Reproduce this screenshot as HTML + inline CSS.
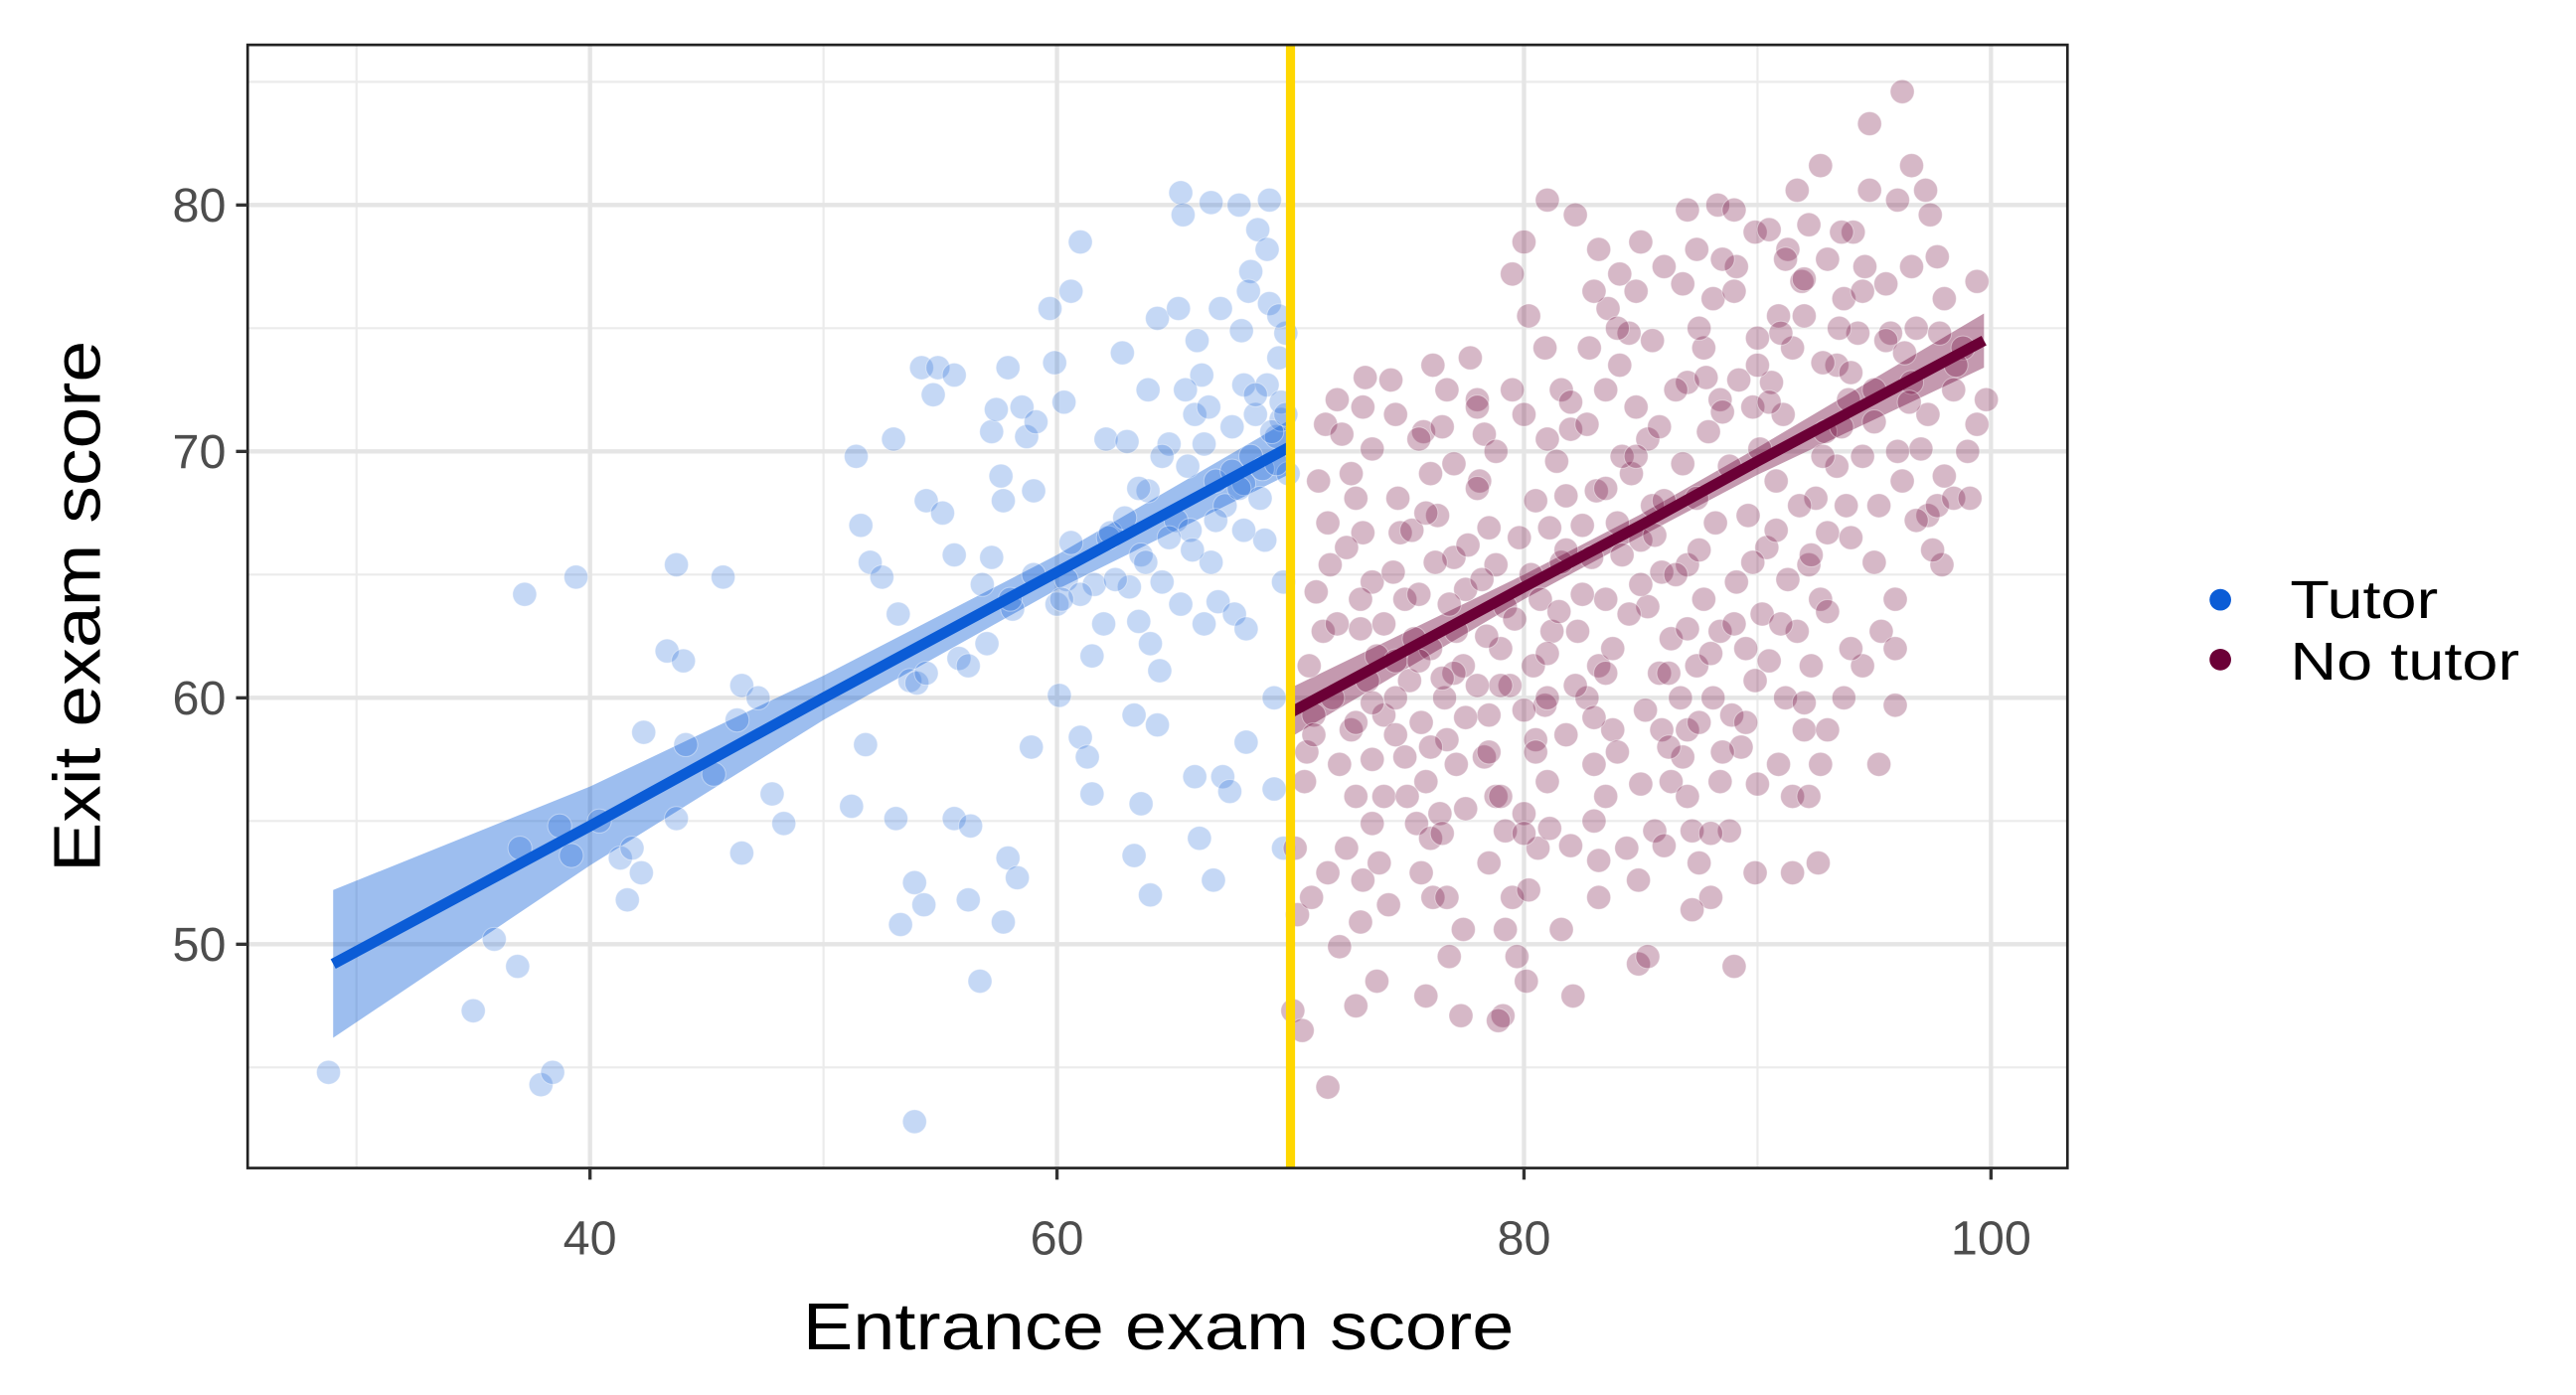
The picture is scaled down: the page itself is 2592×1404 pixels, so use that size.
<!DOCTYPE html>
<html><head><meta charset="utf-8">
<style>
html,body{margin:0;padding:0;background:#fff;}
svg{display:block;}
text{font-family:"Liberation Sans Narrow","Liberation Sans",sans-serif;}
</style></head>
<body>
<svg id="chart" xmlns="http://www.w3.org/2000/svg" width="2592" height="1404" viewBox="0 0 1550 839.6">
<rect x="0" y="0" width="1550" height="839.6" fill="#fff"/>
<g id="grid"></g>
<g id="bands"></g>
<g id="points"></g>
<g id="fits"></g>
<g id="cutoff"></g>
<rect x="149" y="27" width="1095" height="676" fill="none" stroke="#222" stroke-width="1.6"/>
<g id="axes"></g>
<text x="697" y="812" text-anchor="middle" font-size="40" textLength="428" lengthAdjust="spacingAndGlyphs" fill="#000">Entrance exam score</text>
<text transform="translate(60,365) rotate(-90)" text-anchor="middle" font-size="40" textLength="320" lengthAdjust="spacingAndGlyphs" fill="#000">Exit exam score</text>
<g>
<g>
<circle cx="1336" cy="361" r="6.5" fill="#0B5CD6"/>
<text x="1378" y="372" font-size="32" textLength="89" lengthAdjust="spacingAndGlyphs" fill="#000">Tutor</text>
</g>
<g>
<circle cx="1336" cy="397" r="6.5" fill="#6B0036"/>
<text x="1378" y="409" font-size="32" textLength="138" lengthAdjust="spacingAndGlyphs" fill="#000">No tutor</text>
</g>
</g>
</svg>
<script>
const xTicks = [40, 60, 80, 100];
const yTicks = [50, 60, 70, 80];
const xMinor = [30, 50, 70, 90];
const yMinor = [45, 55, 65, 75, 85];
const cutoff = 70;

const tutorX = [28.8,37.2,39.4,43.7,45.7,35.0,35.9,36.9,37.9,38.4,37.0,38.7,39.2,40.4,41.3,41.6,41.8,42.2,42.3,43.3,44.0,43.7,44.1,45.3,46.5,46.5,46.3,47.2,47.8,48.3,51.2,51.4,51.6,51.8,52.0,52.5,53.0,53.2,53.1,53.3,53.7,53.9,54.0,54.2,54.3,54.4,54.4,54.7,54.9,55.1,55.6,55.6,55.6,55.8,56.2,56.2,56.3,56.7,56.8,57.0,57.2,57.2,57.4,57.6,57.7,57.7,57.9,57.9,58.1,58.3,58.5,58.7,58.9,59.0,59.1,59.7,59.9,60.0,60.1,60.3,60.4,60.6,60.6,61.0,61.0,61.3,61.5,61.5,61.6,62.1,62.2,62.3,62.8,62.9,63.0,63.1,63.3,63.3,63.5,63.6,63.6,63.9,63.9,64.0,64.0,64.3,64.4,64.3,64.5,64.8,65.1,65.2,65.3,65.3,65.4,65.6,65.7,65.9,65.9,66.1,66.2,66.3,66.3,66.6,66.6,66.7,66.8,66.9,67.1,67.2,67.4,67.5,67.6,67.9,68.0,68.0,68.1,68.1,68.3,68.3,68.5,68.6,68.7,68.9,69.0,69.1,69.1,69.3,69.3,69.4,69.5,69.6,69.7,69.7,69.8,69.9,53.9,
66.5,67.5,68.5,69.2,69.6,68.8,67.8,66.8,65.8,64.8,63.8,62.5,63.5,64.5,65.5,66.0,67.0,68.2,69.5,69.0,67.8,69.8,69.4,68.0,62.0,61.0,60.2,59.0,58.0];
const tutorY = [44.8,64.2,64.9,65.4,64.9,47.3,50.2,49.1,44.3,44.8,53.9,54.8,53.6,55.0,53.5,51.8,53.9,52.9,58.6,61.9,61.5,55.1,58.1,56.9,60.5,53.7,59.1,60.0,56.1,54.9,55.6,69.8,67.0,58.1,65.5,64.9,70.5,63.4,55.1,50.8,60.7,52.5,60.6,73.4,51.6,68.0,61.0,72.3,73.4,67.5,73.1,65.8,55.1,61.6,61.3,51.8,54.8,48.5,64.6,62.2,70.8,65.7,71.7,69.0,50.9,68.0,73.4,53.5,63.6,52.7,71.8,70.6,58.0,68.4,71.2,75.8,73.6,63.8,60.1,72.0,64.8,66.3,76.5,78.5,58.4,57.6,56.1,61.7,64.6,70.5,66.5,66.7,74.0,67.3,70.4,64.5,59.3,53.6,63.1,65.8,55.7,72.5,68.4,62.2,52.0,58.9,61.1,75.4,64.7,70.3,67.2,75.8,80.5,63.8,79.6,69.4,66.8,56.8,71.5,54.3,73.1,63.0,70.3,80.1,65.5,52.6,68.8,63.9,56.8,67.8,56.2,69.2,63.4,74.9,72.7,68.7,58.2,62.8,77.3,69.8,71.5,79.0,68.1,66.4,72.7,76.0,80.2,60.0,56.3,70.6,73.8,71.3,53.9,64.7,74.8,69.1,42.8,
71.8,71.0,72.3,70.8,72.0,69.3,68.5,67.2,66.0,66.5,65.5,64.8,68.5,69.8,72.5,74.5,75.8,76.5,75.5,78.2,80.0,71.5,69.5,66.8,63.0,64.2,64.0,65.0,64.0];

const noTutorX = [70.1,70.5,70.3,70.2,70.6,70.9,70.7,71.0,70.8,71.4,71.1,71.7,71.6,71.2,71.5,72.0,72.2,72.6,72.8,73.1,72.4,73.5,73.0,73.7,73.3,74.0,72.6,72.1,72.8,73.5,72.4,71.6,73.1,73.8,74.2,73.0,72.1,73.7,72.8,71.6,74.0,73.1,73.5,74.3,74.6,74.7,74.4,74.9,75.3,75.1,75.6,74.9,75.8,75.4,76.0,75.6,76.1,75.8,76.8,77.4,77.3,76.7,76.4,77.1,76.7,76.6,77.4,77.1,77.5,77.0,76.3,76.0,75.7,76.1,76.7,77.7,78.0,78.3,78.1,78.5,78.8,79.2,79.0,79.4,78.5,78.3,78.8,79.2,78.5,79.5,79.2,79.7,80.1,79.1,80.2,80.6,80.0,81.0,80.5,80.9,80.4,81.2,80.7,81.6,81.1,81.8,81.4,82.0,81.6,80.9,80.2,79.5,80.0,82.2,81.0,83.2,84.1,83.6,84.5,84.1,84.8,85.3,84.6,85.5,85.0,85.9,85.3,86.3,85.8,86.7,85.9,86.8,86.3,87.0,85.6,84.4,84.9,83.2,83.5,83.0,83.8,82.7,83.2,82.3,83.5,82.9,84.0,83.1,84.2,82.7,87.2,87.5,88.0,88.8,88.4,89.3,88.9,89.9,89.5,90.2,89.1,90.4,89.6,90.8,90.1,91.1,90.6,91.5,90.9,91.9,91.3,92.2,91.7,92.7,89.9,89.1,88.1,87.4,87.7,87.0,88.4,87.9,88.8,87.4,88.2,87.0,87.7,88.4,87.4,88.1,87.0,91.5,90.9,92.0,91.2,92.3,91.7,92.7,92.2,93.0,92.5,93.4,92.9,93.9,93.4,94.3,93.7,94.6,94.1,94.8,96.0,96.6,96.2,94.8,93.6,95.7,96.6,97.3,97.0,96.2,97.3,97.9,95.9,95.3,94.5,93.7,93.0,92.7,92.2,92.6,95.2,95.9,95.9,97.7,98.4,99.1,99.4,99.8,98.8,98.0,97.7,97.4,97.2,99.4,98.4,96.6,89.9,89.0,91.5,87.2,84.9,82.1,78.9,85.3,81.6,83.2,81.1,
75.2,75.8,76.2,75.5,76.8,77.6,78.2,76.0,77.0,78.4,79.6,80.3,79.8,81.5,82.5,81.0,82.2,83.8,84.5,85.0,84.2,85.6,86.5,87.5,86.0,86.8,85.8,86.5,87.8,88.5,89.2,89.8,90.5,90.0,91.0,92.0,92.8,93.5,94.0,95.0,95.5,96.3,90.0,89.0,88.5,87.5,86.8,85.5,84.8,83.5,82.8,82.0,81.0,80.0,79.5,78.8,78.0,77.0,80.5,82.5,83.5,84.8,81.8,79.0,77.5,76.0,74.5,73.5,75.0,76.5,77.5,78.5,80.5,81.8,83.0,84.0,85.2,86.2,87.5,88.5,89.5,90.5,91.0,89.8,90.8,91.8,92.8,93.6,94.5,95.0,96.0,96.5,94.0,95.0,93.0,94.0,92.0,90.0,88.0,86.0,85.0,83.0,82.0,80.0,79.0,74.0,74.5,73.0,72.0,71.8,72.8,71.0,75.5,74.5,73.2,76.5,78.0,83.0,84.0,85.0,86.0,87.0,88.3,89.0,90.5,91.2,92.0,93.0,94.5,95.5,96.8,97.8,98.5,99.0,98.0,96.8,97.5,95.2,93.8,92.3,91.3,89.0,88.0,87.0,86.2,83.5,81.0,80.0,78.0,76.5,75.5,74.5,73.5];
const noTutorY = [47.3,46.5,51.2,53.9,56.6,51.9,57.8,59.3,61.3,62.7,64.3,65.4,67.1,68.8,71.1,72.1,70.7,69.1,68.1,66.7,66.1,64.7,62.8,61.7,60.7,59.3,58.7,57.3,56.0,54.9,53.9,52.9,52.6,53.3,51.6,50.9,49.9,48.5,47.5,44.2,56.0,71.8,70.1,72.9,68.1,66.7,65.1,64.0,62.4,60.7,59.0,57.6,56.6,54.9,54.3,52.9,51.9,47.9,49.5,50.6,47.1,51.9,55.3,57.3,58.3,60.0,61.3,62.7,64.4,65.7,67.4,69.1,70.8,73.5,72.5,73.8,72.1,70.7,68.8,66.9,65.4,63.7,62.0,60.5,59.3,57.6,56.0,54.6,53.3,51.9,50.6,49.5,48.5,47.1,52.2,53.9,55.3,56.6,58.3,59.7,61.3,62.7,64.0,65.5,66.9,68.2,69.6,70.9,72.5,74.2,75.5,77.2,78.5,79.6,80.2,78.2,77.2,75.8,74.8,73.5,71.8,70.5,69.1,67.8,66.4,65.1,63.7,62.4,61.0,60.0,58.7,57.6,56.6,56.0,54.6,53.9,52.6,51.9,56.0,57.3,58.7,60.0,61.3,62.7,64.0,65.7,67.1,68.4,69.8,71.1,54.6,53.3,51.9,54.6,56.6,58.0,59.3,60.7,62.0,63.4,64.7,66.1,67.4,68.8,70.1,71.5,72.8,74.2,75.5,76.9,78.2,79.2,80.6,81.6,78.9,77.5,76.2,78.2,74.2,72.8,72.1,70.8,69.4,68.1,67.1,65.4,64.0,62.7,61.3,60.0,58.7,56.0,57.3,58.7,60.0,61.3,62.7,64.0,65.4,66.7,68.1,69.4,70.8,72.1,73.5,74.8,76.2,77.5,78.9,80.6,80.2,81.6,84.6,83.3,78.9,74.8,72.8,71.5,70.1,68.8,67.4,65.4,64.0,62.7,61.3,60.0,58.7,57.3,56.0,53.3,57.3,59.7,62.0,67.8,68.1,68.1,71.1,72.1,74.2,76.2,77.9,79.6,80.6,76.9,72.5,77.5,52.9,49.1,52.9,51.4,49.2,47.9,46.9,49.5,50.6,53.4,54.7,
66.8,67.5,65.5,64.2,63.8,66.2,64.8,62.0,61.0,62.5,63.2,65.0,66.5,63.5,64.2,61.8,60.5,62.0,63.4,64.6,65.8,66.6,65.0,66.0,68.0,69.5,71.0,72.5,73.0,71.6,72.9,71.8,72.0,73.5,74.8,75.5,73.6,75.0,73.2,72.5,74.5,74.0,74.6,76.5,77.8,75.0,76.8,74.5,76.5,72.5,74.2,72.0,70.5,71.5,72.5,70.0,68.5,69.5,68.0,67.0,68.5,69.8,66.0,60.5,59.2,58.0,58.5,57.5,56.0,54.5,55.5,57.8,57.8,58.5,59.2,57.8,59.5,58.0,59.0,57.8,59.0,61.5,63.0,65.5,66.8,67.8,69.8,71.0,69.8,71.2,70.0,72.0,66.5,65.5,63.5,62.0,59.8,56.5,54.5,54.0,56.5,55.0,54.0,54.5,56.0,63.0,61.5,64.0,63.0,60.0,59.0,58.5,70.5,71.5,73.0,71.0,71.8,76.5,75.0,78.5,77.5,79.8,80.0,79.8,79.0,77.8,77.0,77.8,76.5,76.8,75.0,74.8,73.5,70.0,69.0,67.2,66.0,67.8,67.8,65.8,64.8,63.0,61.8,62.8,61.0,61.0,60.0,59.5,60.5,60.8,61.5,60.0,59.8];

const tutorFitX = [29, 40, 50, 60, 70];
const tutorFitY = [49.2, 54.8, 60.0, 65.1, 70.2];
const tutorLow = [46.2, 53.2, 59.1, 64.4, 69.1];
const tutorHigh = [52.2, 56.4, 60.9, 65.8, 71.3];

const noTutorFitX = [70, 80, 85, 90, 99.7];
const noTutorFitY = [59.4, 64.5, 67.0, 69.6, 74.5];
const noTutorLow = [58.4, 64.0, 66.55, 69.05, 73.4];
const noTutorHigh = [60.4, 65.0, 67.45, 70.15, 75.6];

const NS = "http://www.w3.org/2000/svg";
function sx(v){ return 355 + (v - 40) * 14.05; }
function sy(v){ return 420 - (v - 60) * 14.83; }
function mk(tag, attrs, parent){
  const e = document.createElementNS(NS, tag);
  for (const k in attrs) e.setAttribute(k, attrs[k]);
  parent.appendChild(e);
  return e;
}
const L = 149, R = 1244, T = 27, B = 703;
const grid = document.getElementById('grid');
xMinor.forEach(v => {
  const l = mk('line', {x1:sx(v), x2:sx(v), y1:T, y2:B, stroke:'#ebebeb', 'stroke-width':1.3}, grid);
  
  
});
yMinor.forEach(v => {
  const l = mk('line', {x1:L, x2:R, y1:sy(v), y2:sy(v), stroke:'#ebebeb', 'stroke-width':1.3}, grid);
  
  
});
xTicks.forEach(v => {
  const l = mk('line', {x1:sx(v), x2:sx(v), y1:T, y2:B, stroke:'#e5e5e5', 'stroke-width':2.6}, grid);
  
  
});
yTicks.forEach(v => {
  const l = mk('line', {x1:L, x2:R, y1:sy(v), y2:sy(v), stroke:'#e5e5e5', 'stroke-width':2.6}, grid);
  
  
});

function band(xs, lo, hi, color, name){
  let d = 'M' + xs.map((x,i) => sx(x) + ',' + sy(hi[i])).join(' L');
  d += ' L' + xs.slice().reverse().map((x,j) => { const i = xs.length-1-j; return sx(x) + ',' + sy(lo[i]); }).join(' L') + ' Z';
  const p = mk('path', {d:d, fill:color, 'fill-opacity':0.4, stroke:'none'}, document.getElementById('bands'));
  
  
}
band(tutorFitX, tutorLow, tutorHigh, '#0B5CD6', 'tutor-confidence-band');

const pts = document.getElementById('points');
tutorX.forEach((x,i) => {
  const c = mk('circle', {cx:sx(x), cy:sy(tutorY[i]), r:7.2, fill:'#0B5CD6', 'fill-opacity':0.24, stroke:'#fff', 'stroke-opacity':0.4, 'stroke-width':0.6}, pts);
  
  
});
noTutorX.forEach((x,i) => {
  const c = mk('circle', {cx:sx(x), cy:sy(noTutorY[i]), r:7.2, fill:'#6B0036', 'fill-opacity':0.28, stroke:'#fff', 'stroke-opacity':0.4, 'stroke-width':0.6}, pts);
  
  
});
band(noTutorFitX, noTutorLow, noTutorHigh, '#6B0036', 'no-tutor-confidence-band');

function fit(xs, ys, color, name){
  const p = mk('polyline', {points: xs.map((x,i) => sx(x) + ',' + sy(ys[i])).join(' '), fill:'none', stroke:color, 'stroke-width':6.5}, document.getElementById('fits'));
  
  
}
fit(tutorFitX, tutorFitY, '#0B5CD6', 'tutor-fit-line');
fit(noTutorFitX, noTutorFitY, '#6B0036', 'no-tutor-fit-line');

const cl = mk('line', {x1:sx(cutoff), x2:sx(cutoff), y1:T, y2:B, stroke:'#FFD700', 'stroke-width':5.5}, document.getElementById('cutoff'));



const axes = document.getElementById('axes');
xTicks.forEach(v => {
  const t = mk('line', {x1:sx(v), x2:sx(v), y1:B, y2:B+7, stroke:'#333', 'stroke-width':2}, axes);
  
  
  const tx = mk('text', {x:sx(v), y:B+52, 'text-anchor':'middle', 'font-size':29, fill:'#4d4d4d'}, axes);
  tx.textContent = String(v);
  
  
});
yTicks.forEach(v => {
  const t = mk('line', {x1:L-7, x2:L, y1:sy(v), y2:sy(v), stroke:'#333', 'stroke-width':2}, axes);
  
  
  const tx = mk('text', {x:L-13, y:sy(v)+10, 'text-anchor':'end', 'font-size':29, fill:'#4d4d4d'}, axes);
  tx.textContent = String(v);
  
  
});
</script>
</body></html>
